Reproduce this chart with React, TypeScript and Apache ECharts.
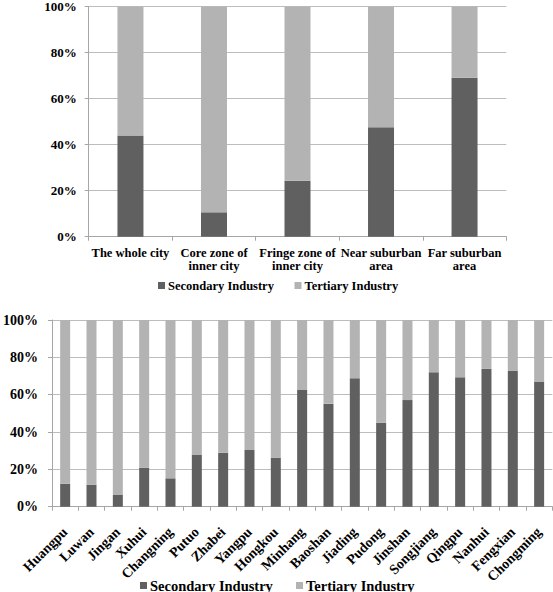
import React, { useEffect, useRef } from "react";
import * as echarts from "echarts";

const zoneCategories = [
  "The whole city",
  "Core zone of\ninner city",
  "Fringe zone of\ninner city",
  "Near suburban\narea",
  "Far suburban\narea",
];
const zoneSecondary = [44.0, 10.6, 24.3, 47.5, 69.1];
const zoneTertiary = [56.0, 89.4, 75.7, 52.5, 30.9];

const districtCategories = [
  "Huangpu", "Luwan", "Jingan", "Xuhui", "Changning", "Putuo", "Zhabei",
  "Yangpu", "Hongkou", "Minhang", "Baoshan", "Jiading", "Pudong", "Jinshan",
  "Songjiang", "Qingpu", "Nanhui", "Fengxian", "Chongming",
];
const districtSecondary = [
  12.3, 11.8, 6.3, 20.9, 15.2, 27.7, 28.9, 30.4, 26.3, 62.5, 55.2, 68.8, 45.0,
  57.1, 72.0, 69.3, 73.8, 72.7, 67.0,
];
const districtTertiary = [
  87.7, 88.2, 93.7, 79.1, 84.8, 72.3, 71.1, 69.6, 73.7, 37.5, 44.8, 31.2, 55.0,
  42.9, 28.0, 30.7, 26.2, 27.3, 33.0,
];

const yTicks = [0, 20, 40, 60, 80, 100];

const SEC = "Secondary Industry";
const TER = "Tertiary Industry";
const DARK = "#606060";
const LIGHT = "#b3b3b3";
const FONT = "Times New Roman, Liberation Serif, DejaVu Serif, serif";
const AXIS_GRAY = "#a6a6a6";
const GRID_GRAY = "#bdbdbd";

export default function App() {
  const ref = useRef<HTMLDivElement>(null);

  useEffect(() => {
    if (!ref.current) return;
    const chart = echarts.init(ref.current, undefined, { renderer: "svg" });

    const baseText = { fontFamily: FONT, fontWeight: "bold" as const, color: "#000" };

    const yAxisCommon = (fontSize: number, margin: number) => ({
      type: "value" as const,
      min: yTicks[0],
      max: yTicks[yTicks.length - 1],
      interval: 20,
      axisLine: { show: true, lineStyle: { color: AXIS_GRAY, width: 1 } },
      axisTick: { show: true, length: 4, lineStyle: { color: AXIS_GRAY } },
      splitLine: { show: true, lineStyle: { color: GRID_GRAY, width: 1 } },
      axisLabel: { ...baseText, fontSize, margin, formatter: "{value}%" },
    });

    const legendCommon = (fontSize: number, left: number, top: number, name: string) => ({
      show: true,
      left,
      top,
      orient: "horizontal" as const,
      icon: "rect",
      itemWidth: 7,
      itemHeight: 7,
      itemGap: 20,
      padding: 0,
      data: [name],
      textStyle: { ...baseText, fontSize, padding: [0, 0, 0, -2] },
      selectedMode: false,
    });

    chart.setOption({
      animation: false,
      backgroundColor: "#ffffff",
      textStyle: { fontFamily: FONT },
      grid: [
        { left: 88.7, top: 5, width: 417.6, height: 231.7, containLabel: false },
        { left: 50.7, top: 320, width: 501.6, height: 186.7, containLabel: false },
      ],
      legend: [
        legendCommon(12.5, 158, 279, SEC),
        legendCommon(12.5, 294.5, 279, TER),
        legendCommon(14.5, 140, 578, SEC),
        legendCommon(14.5, 296, 578, TER),
      ],
      xAxis: [
        {
          type: "category",
          gridIndex: 0,
          data: zoneCategories,
          axisLine: { show: true, lineStyle: { color: AXIS_GRAY } },
          axisTick: { show: true, length: 4, alignWithLabel: false, lineStyle: { color: AXIS_GRAY } },
          axisLabel: { ...baseText, fontSize: 12.5, lineHeight: 13, margin: 10, interval: 0 },
        },
        {
          type: "category",
          gridIndex: 1,
          data: districtCategories,
          axisLine: { show: true, lineStyle: { color: AXIS_GRAY } },
          axisTick: { show: true, length: 4, alignWithLabel: false, lineStyle: { color: AXIS_GRAY } },
          axisLabel: { ...baseText, fontSize: 14, margin: 23, interval: 0, rotate: 45 },
        },
      ],
      yAxis: [
        { ...yAxisCommon(13, 12), gridIndex: 0 },
        { ...yAxisCommon(14, 14), gridIndex: 1 },
      ],
      series: [
        {
          name: SEC, type: "bar", stack: "top", xAxisIndex: 0, yAxisIndex: 0,
          data: zoneSecondary, barWidth: 26, itemStyle: { color: DARK },
        },
        {
          name: TER, type: "bar", stack: "top", xAxisIndex: 0, yAxisIndex: 0,
          data: zoneTertiary, barWidth: 26, itemStyle: { color: LIGHT },
        },
        {
          name: SEC, type: "bar", stack: "bottom", xAxisIndex: 1, yAxisIndex: 1,
          data: districtSecondary, barWidth: 10, itemStyle: { color: DARK },
        },
        {
          name: TER, type: "bar", stack: "bottom", xAxisIndex: 1, yAxisIndex: 1,
          data: districtTertiary, barWidth: 10, itemStyle: { color: LIGHT },
        },
      ],
    });

    return () => chart.dispose();
  }, []);

  return (
    <div
      ref={ref}
      style={{ position: "fixed", left: 0, top: 0, width: 553, height: 592, background: "#fff" }}
    />
  );
}
